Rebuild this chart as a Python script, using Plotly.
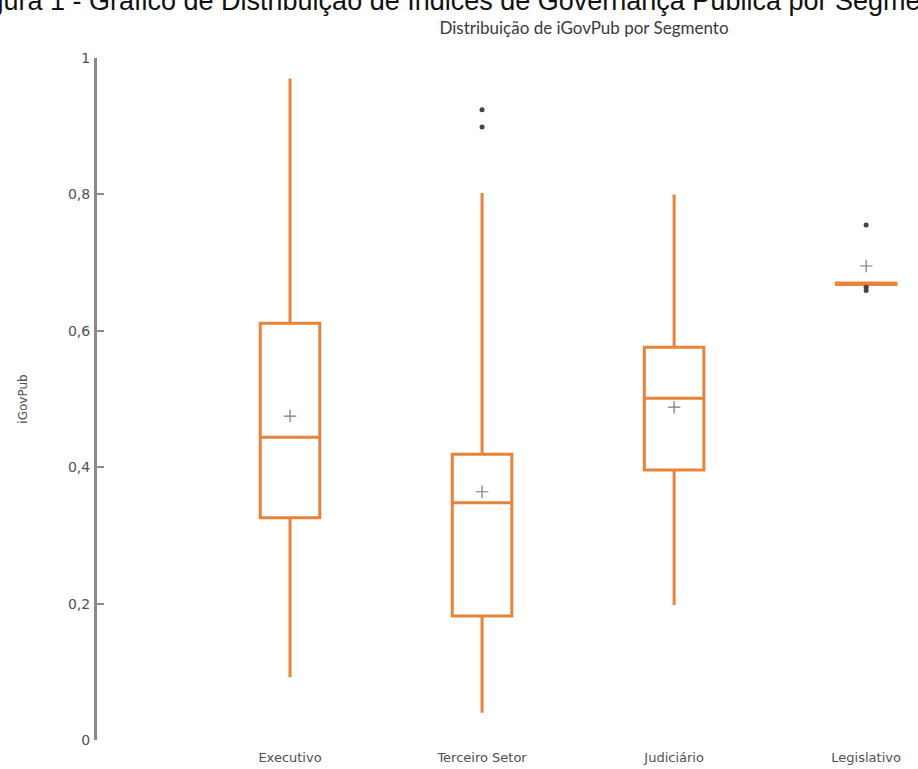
import plotly.graph_objects as go

categories = ["Executivo", "Terceiro Setor", "Judiciário", "Legislativo"]
positions = [0, 1, 2, 3]
q1 = [0.326, 0.182, 0.396, 0.668]
median = [0.444, 0.348, 0.501, 0.669]
q3 = [0.611, 0.419, 0.576, 0.670]
lowerfence = [0.092, 0.040, 0.198, 0.668]
upperfence = [0.970, 0.802, 0.800, 0.670]
means = [0.475, 0.364, 0.488, 0.695]

outlier_x = [1, 1, 3, 3, 3]
outlier_y = [0.924, 0.899, 0.755, 0.664, 0.659]

y_ticks = [0, 0.2, 0.4, 0.6, 0.8, 1]
y_ticktext = ["0", "0,2", "0,4", "0,6", "0,8", "1"]

ORANGE = "#E8843A"

fig = go.Figure()
fig.add_trace(go.Box(
    x=positions, q1=q1, median=median, q3=q3,
    lowerfence=lowerfence, upperfence=upperfence,
    width=0.31, whiskerwidth=0,
    line=dict(color=ORANGE, width=3),
    fillcolor="white", boxpoints=False, showlegend=False,
    hoverinfo="skip",
))
fig.add_trace(go.Scatter(
    x=positions, y=means, mode="markers",
    marker=dict(symbol="cross-thin", size=9, line=dict(color="#7a7a7a", width=1.2)),
    showlegend=False, hoverinfo="skip",
))
fig.add_trace(go.Scatter(
    x=outlier_x, y=outlier_y, mode="markers",
    marker=dict(symbol="circle", size=5, color="#444444"),
    showlegend=False, hoverinfo="skip",
))

fig.update_layout(
    width=918, height=769,
    paper_bgcolor="white", plot_bgcolor="white",
    margin=dict(l=97, r=0, t=58, b=29, autoexpand=False),
    title=dict(text="Distribuição de iGovPub por Segmento",
               x=584 / 918, xanchor="center", y=1 - 28 / 769, yanchor="middle",
               font=dict(family="Lato, Open Sans, sans-serif", size=17, color="#3a3a3a")),
    xaxis=dict(range=[-1.005, 3.27], tickvals=positions, ticktext=categories,
               automargin=False,
               showgrid=False, zeroline=False, showline=False, ticks="",
               ticklabelstandoff=8,
               tickfont=dict(family="DejaVu Sans, sans-serif", size=13, color="#505050")),
    yaxis=dict(range=[0, 1], tickvals=y_ticks, ticktext=y_ticktext,
               automargin=False,
               showgrid=False, zeroline=False, showline=True,
               linecolor="#8a8a8a", linewidth=3,
               ticks="inside", ticklen=7, tickwidth=2, tickcolor="#8a8a8a",
               ticklabelstandoff=1,
               tickfont=dict(family="DejaVu Sans, sans-serif", size=14, color="#505050"),
               title=dict(text="iGovPub", standoff=38,
                          font=dict(family="DejaVu Sans, sans-serif", size=12, color="#505050"))),
    annotations=[dict(
        text="Figura 1 - Gráfico de Distribuição de Índices de Governança Pública por Segmento",
        xref="paper", yref="paper", x=-0.162, y=1.0587, xanchor="left", yanchor="bottom",
        showarrow=False, font=dict(family="Liberation Sans, Arial, sans-serif", size=27, color="#111111"),
    )],
)

fig.write_html("out.html", config={"displayModeBar": False},
               post_script="document.body.style.margin='0';")
